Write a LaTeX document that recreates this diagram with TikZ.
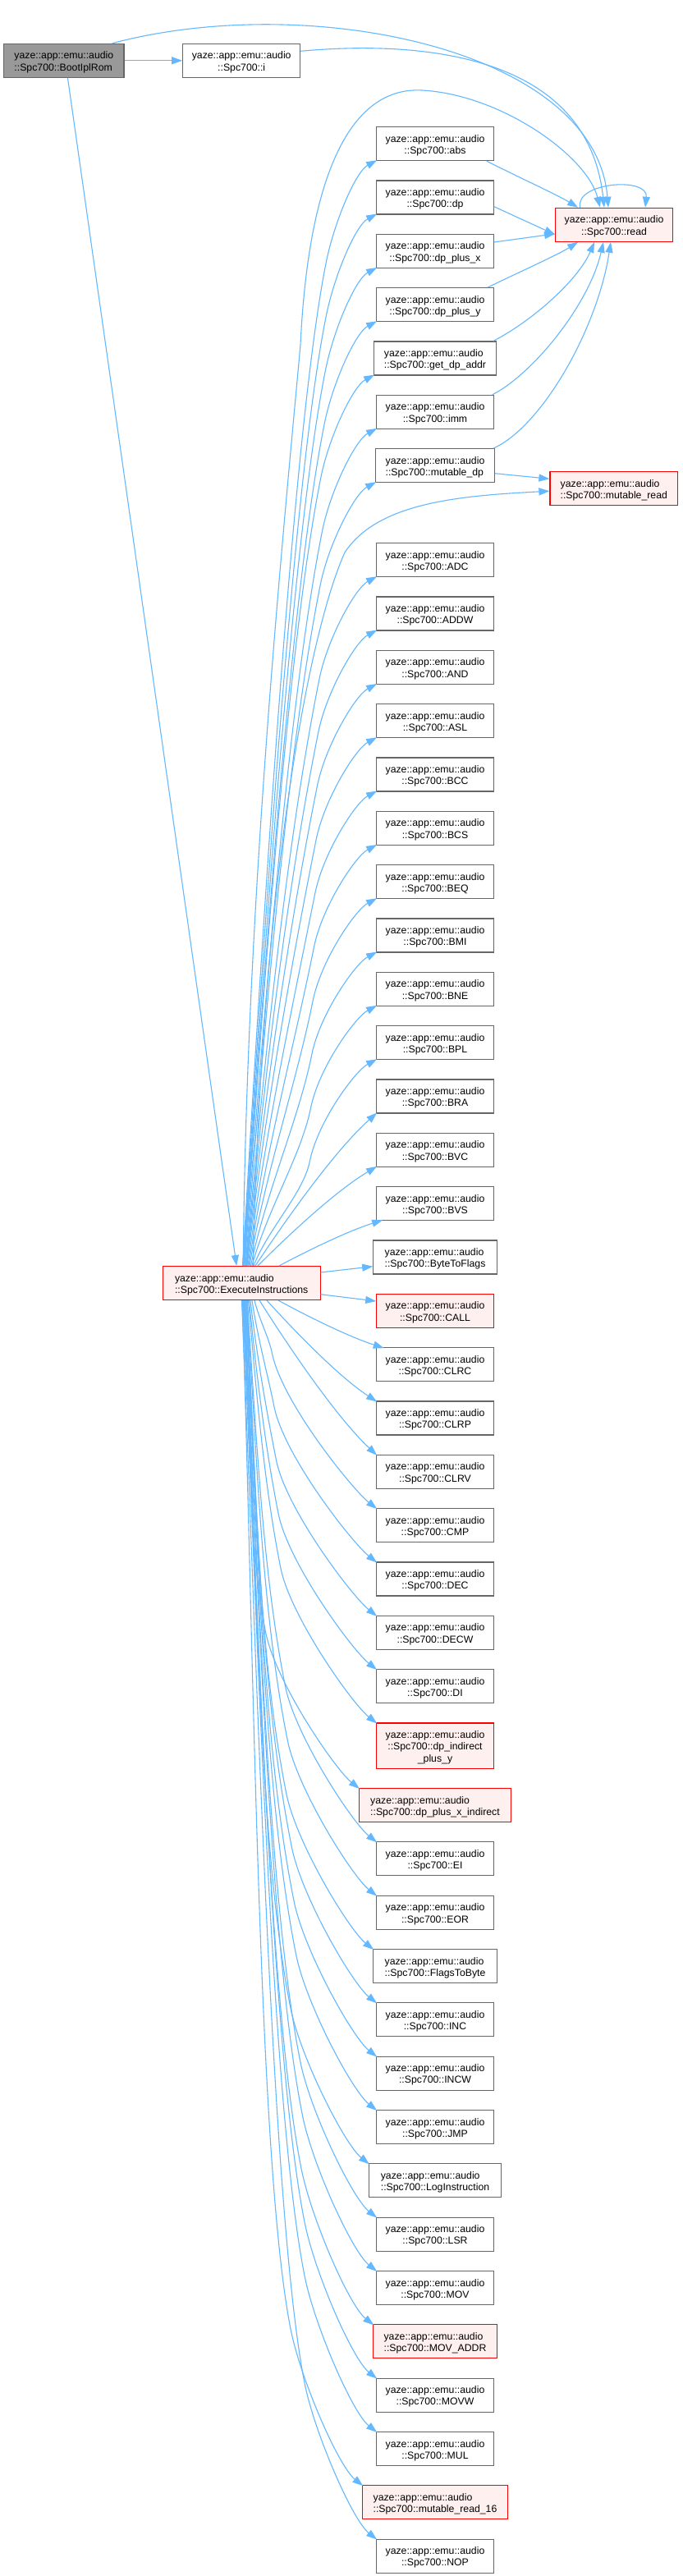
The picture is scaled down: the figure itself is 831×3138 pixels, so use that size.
\documentclass[tikz,border=0pt]{standalone}
\usepackage{fontspec}
\setmainfont{Liberation Sans}
\usetikzlibrary{arrows.meta,calc}
\definecolor{edgeblue}{HTML}{63B8FF}
\definecolor{boxgray}{HTML}{666666}
\definecolor{hotfill}{HTML}{FFF0F0}
\definecolor{rootfill}{HTML}{999999}
\newcommand\yz{\rule{0pt}{12.9pt}yaze::app::emu::audio}
\tikzset{
  fn/.style={draw=boxgray, fill=white, line width=1.1pt, minimum width=142.6pt,
    minimum height=41pt, inner sep=0pt, align=center,
    font=\fontsize{12.27pt}{14.2pt}\selectfont},
  fnl/.style={fn, align=left},
  hot/.style={draw=red, fill=hotfill},
  rootfn/.style={fill=rootfill},
  calledge/.style={draw=edgeblue, line width=1.1pt, -{Triangle[length=13pt,width=9pt]}},
}
% upward fan edge, two segments
\newcommand\UpA[2]{\draw[calledge] let \p1=(exec.north), \p2=($(#1.south west)+(1,1)$),
  \n2={62+20*max(0,1-(\y2-\y1-250)/1000)}, \p3=($(\p2)+(-\n2,-125)$),
  \n1={min(200,0.3*(\y3-\y1))} in
  (#2,\y1) .. controls ({#2+0.25*(\x3-#2)},{\y1+0.35*(\y3-\y1)}) and ({\x3-0.2*\n1},{\y3-\n1}) .. (\p3)
  .. controls ({\x3+10},{\y3+50}) and ({\x2-26},{\y2-14}) .. (\p2);}
% upward near edge, single cubic
\newcommand\UpB[3]{\draw[calledge] let \p1=(exec.north), \p2=($(#1.south west)+(#3,1)$) in
  (#2,\y1) .. controls ({#2+0.25*(\x2-#2)},{\y1+0.3*(\y2-\y1)}) and ({\x2-0.35*(\x2-#2)},{\y2-0.25*(\y2-\y1)}) .. (\p2);}
% downward fan edge, two segments
\newcommand\DnA[2]{\draw[calledge] let \p1=(exec.south), \p2=($(#1.north west)+(1,-1)$),
  \n2={88+40*max(0,1-(\y1-\y2-250)/1000)}, \p3=($(\p2)+(-\n2,190)$),
  \n1={min(200,0.3*(\y1-\y3))} in
  (#2,\y1) .. controls ({#2+0.25*(\x3-#2)},{\y1-0.35*(\y1-\y3)}) and ({\x3-0.2*\n1},{\y3+\n1}) .. (\p3)
  .. controls ({\x3+12},{\y3-60}) and ({\x2-30},{\y2+24}) .. (\p2);}
% downward near edge, single cubic
\newcommand\DnB[3]{\draw[calledge] let \p1=(exec.south), \p2=($(#1.north west)+(#3,-1)$) in
  (#2,\y1) .. controls ({#2+0.25*(\x2-#2)},{\y1-0.3*(\y1-\y2)}) and ({\x2-0.35*(\x2-#2)},{\y2+0.25*(\y1-\y2)}) .. (\p2);}
\begin{document}
\begin{tikzpicture}[x=1pt,y=1pt]
\fill[white] (0,0) rectangle (831,-3138);
\useasboundingbox (0,0) rectangle (831,-3138);
% ---- nodes ----
\node[fnl,rootfn,minimum width=146.3pt] (boot) at (77.85,-73.8) {\yz\\::Spc700::BootIplRom};
\node[fn,minimum width=143pt] (spci) at (294.2,-73.8) {\yz\\::Spc700::i};
\node[fn,hot] (read) at (748,-273.8) {\yz\\::Spc700::read};
\node[fnl,hot,minimum width=155.7pt] (mread) at (747.8,-595.2) {\yz\\::Spc700::mutable\_read};
\node[fnl,hot,minimum width=191.7pt] (exec) at (294.2,-1563) {\yz\\::Spc700::ExecuteInstructions};
\node[fn] (abs) at (530,-175.2) {\yz\\::Spc700::abs};
\node[fn] (dp) at (530,-240.5) {\yz\\::Spc700::dp};
\node[fn] (dpx) at (530,-305.9) {\yz\\::Spc700::dp\_plus\_x};
\node[fn] (dpy) at (530,-371.2) {\yz\\::Spc700::dp\_plus\_y};
\node[fnl,minimum width=148.6pt] (gdp) at (530,-436.5) {\yz\\::Spc700::get\_dp\_addr};
\node[fn] (imm) at (530,-501.8) {\yz\\::Spc700::imm};
\node[fnl,minimum width=144.6pt] (mdp) at (530,-567.2) {\yz\\::Spc700::mutable\_dp};
\node[fn] (adc) at (530,-682.2) {\yz\\::Spc700::ADC};
\node[fn] (addw) at (530,-747.5) {\yz\\::Spc700::ADDW};
\node[fn] (andop) at (530,-812.9) {\yz\\::Spc700::AND};
\node[fn] (asl) at (530,-878.2) {\yz\\::Spc700::ASL};
\node[fn] (bcc) at (530,-943.5) {\yz\\::Spc700::BCC};
\node[fn] (bcs) at (530,-1008.9) {\yz\\::Spc700::BCS};
\node[fn] (beq) at (530,-1074.2) {\yz\\::Spc700::BEQ};
\node[fn] (bmi) at (530,-1139.5) {\yz\\::Spc700::BMI};
\node[fn] (bne) at (530,-1204.8) {\yz\\::Spc700::BNE};
\node[fn] (bpl) at (530,-1270.2) {\yz\\::Spc700::BPL};
\node[fn] (bra) at (530,-1335.5) {\yz\\::Spc700::BRA};
\node[fn] (bvc) at (530,-1400.8) {\yz\\::Spc700::BVC};
\node[fn] (bvs) at (530,-1466.2) {\yz\\::Spc700::BVS};
\node[fnl,minimum width=150.5pt] (btf) at (530,-1531.5) {\yz\\::Spc700::ByteToFlags};
\node[fn,hot] (callop) at (530,-1596.8) {\yz\\::Spc700::CALL};
\node[fn] (clrc) at (530,-1662.2) {\yz\\::Spc700::CLRC};
\node[fn] (clrp) at (530,-1727.5) {\yz\\::Spc700::CLRP};
\node[fn] (clrv) at (530,-1792.8) {\yz\\::Spc700::CLRV};
\node[fn] (cmp) at (530,-1858.1) {\yz\\::Spc700::CMP};
\node[fn] (dec) at (530,-1923.5) {\yz\\::Spc700::DEC};
\node[fn] (decw) at (530,-1988.8) {\yz\\::Spc700::DECW};
\node[fn] (di) at (530,-2054.1) {\yz\\::Spc700::DI};
\node[fn,hot,minimum height=55.2pt] (dpiy) at (530,-2126.6) {\yz\\::Spc700::dp\_indirect\\\_plus\_y};
\node[fnl,hot,minimum width=185pt] (dpxi) at (530,-2199.0) {\yz\\::Spc700::dp\_plus\_x\_indirect};
\node[fn] (eiop) at (530,-2264.3) {\yz\\::Spc700::EI};
\node[fn] (eor) at (530,-2329.7) {\yz\\::Spc700::EOR};
\node[fnl,minimum width=150.5pt] (ftb) at (530,-2395.0) {\yz\\::Spc700::FlagsToByte};
\node[fn] (inc) at (530,-2460.3) {\yz\\::Spc700::INC};
\node[fn] (incw) at (530,-2525.6) {\yz\\::Spc700::INCW};
\node[fn] (jmp) at (530,-2591.0) {\yz\\::Spc700::JMP};
\node[fnl,minimum width=161.1pt] (logi) at (530,-2656.3) {\yz\\::Spc700::LogInstruction};
\node[fn] (lsr) at (530,-2721.6) {\yz\\::Spc700::LSR};
\node[fn] (mov) at (530,-2786.9) {\yz\\::Spc700::MOV};
\node[fnl,hot,minimum width=150.5pt] (movaddr) at (530,-2852.3) {\yz\\::Spc700::MOV\_ADDR};
\node[fn] (movw) at (530,-2917.6) {\yz\\::Spc700::MOVW};
\node[fn] (mul) at (530,-2982.9) {\yz\\::Spc700::MUL};
\node[fnl,hot,minimum width=176.4pt] (mr16) at (530,-3048.2) {\yz\\::Spc700::mutable\_read\_16};
\node[fn] (nop) at (530,-3113.6) {\yz\\::Spc700::NOP};
% ---- edges from the root ----
\draw[calledge] (boot.east) -- (spci.west);
\draw[calledge] ($(boot.south)+(4.6,0)$) -- ($(exec.north)+(-6,0)$);
\draw[calledge] ($(boot.north)+(58.8,0)$) .. controls (377,11) and (725,-60) .. ($(read.north)+(-7,0)$);
\draw[calledge] ($(spci.east)+(0,11.5)$) .. controls (500,-50) and (715,-60) .. ($(read.north)+(-12,0)$);
% ---- edges into read ----
\draw[calledge] ($(read.north)+(-41.3,0)$) .. controls (700,-222) and (790,-215) .. ($(read.north)+(38,0)$);
\draw[calledge] ($(abs.south east)+(-9,0)$) .. controls (630,-215) and (680,-238) .. ($(read.north west)+(28,0)$);
\draw[calledge] ($(dp.east)+(0,-11.2)$) -- ($(read.west)+(0,-12)$);
\draw[calledge] ($(dpx.east)+(0,10.9)$) -- ($(read.west)+(0,-11)$);
\draw[calledge] ($(dpy.north east)+(-8,0)$) .. controls (640,-328) and (680,-310) .. ($(read.south west)+(28,0)$);
\draw[calledge] ($(gdp.north east)+(-4,0)$) .. controls (650,-390) and (705,-340) .. ($(read.south)+(-24,0)$);
\draw[calledge] ($(imm.north east)+(-2,0)$) .. controls (650,-455) and (718,-370) .. ($(read.south)+(-13,0)$);
\draw[calledge] ($(mdp.north east)+(-2,0)$) .. controls (660,-520) and (728,-400) .. ($(read.south)+(-4,0)$);
\draw[calledge] ($(mdp.east)+(0,-9.5)$) -- ($(mread.west)+(0,11.9)$);
% ---- long edges from ExecuteInstructions ----
\draw[calledge] ($(exec.north)+(2,0)$) .. controls (300,-1100) and (345,-650) .. (366,-420)
  .. controls (375,-230) and (420,-105) .. (514,-110)
  .. controls (610,-115) and (715,-190) .. ($(read.north)+(-17,0)$);
\draw[calledge] ($(exec.north)+(14,0)$) .. controls (318,-1100) and (372,-780) .. (420,-673)
  .. controls (460,-612) and (560,-604) .. ($(mread.west)+(0,-3)$);
% ---- fan upward ----
\UpA{abs}{295.5}
\UpA{dp}{296}
\UpA{dpx}{296.5}
\UpA{dpy}{297}
\UpA{gdp}{297.5}
\UpA{imm}{298}
\UpA{mdp}{299}
\UpA{adc}{299.5}
\UpA{addw}{300}
\UpA{andop}{300.5}
\UpA{asl}{301}
\UpA{bcc}{302}
\UpA{bcs}{303}
\UpA{beq}{304}
\UpA{bmi}{305.5}
\UpA{bne}{307}
\UpA{bpl}{309}
\UpB{bra}{311}{1}
\UpB{bvc}{314}{1}
\UpB{bvs}{340}{8}
% ---- side edges ----
\draw[calledge] ($(exec.east)+(0,13)$) -- ($(btf.west)+(0,-11.2)$);
\draw[calledge] ($(exec.east)+(0,-13.7)$) -- ($(callop.west)+(0,11.8)$);
% ---- fan downward ----
\DnB{clrc}{339}{9.6}
\DnB{clrp}{325}{1}
\DnB{clrv}{316}{1}
\DnA{cmp}{310}
\DnA{dec}{307}
\DnA{decw}{305}
\DnA{di}{303.5}
\DnA{dpiy}{302.5}
\DnA{dpxi}{301.5}
\DnA{eiop}{301}
\DnA{eor}{300.5}
\DnA{ftb}{300}
\DnA{inc}{299.5}
\DnA{incw}{299}
\DnA{jmp}{298.5}
\DnA{logi}{298}
\DnA{lsr}{297.5}
\DnA{mov}{297}
\DnA{movaddr}{296.5}
\DnA{movw}{296}
\DnA{mul}{295.5}
\DnA{mr16}{295}
\DnA{nop}{294.5}
\end{tikzpicture}
\end{document}
